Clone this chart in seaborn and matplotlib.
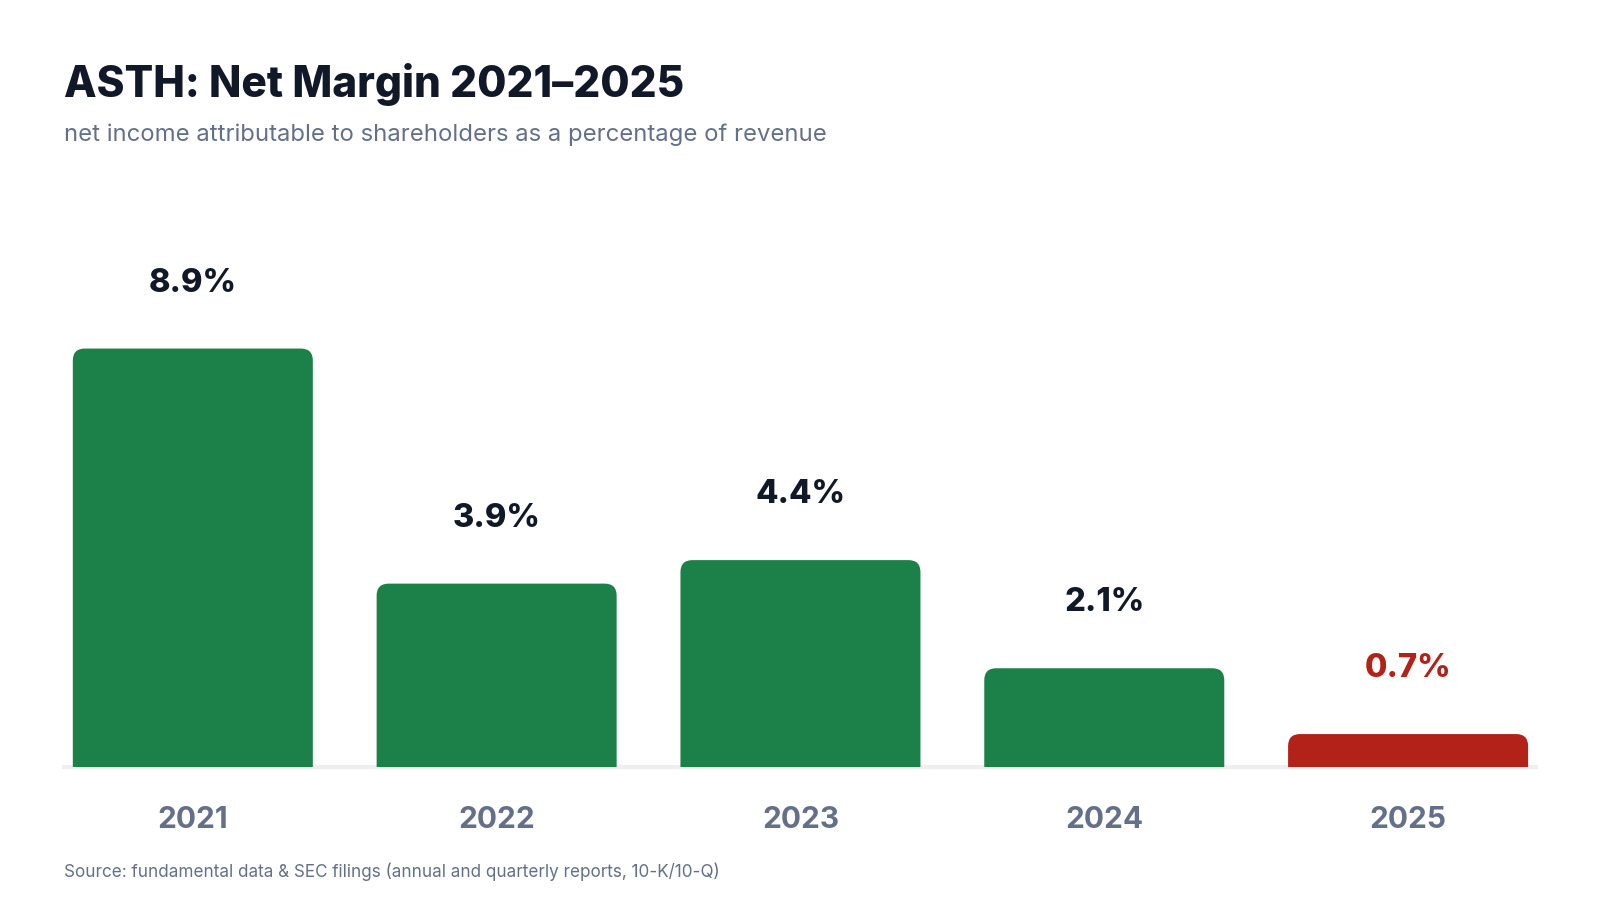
import matplotlib
matplotlib.use("Agg")
import matplotlib.pyplot as plt
import seaborn as sns
import pandas as pd
from matplotlib.patches import FancyBboxPatch

years = ["2021", "2022", "2023", "2024", "2025"]
net_margin = [8.9, 3.9, 4.4, 2.1, 0.7]
bar_colors = ["#1b8149", "#1b8149", "#1b8149", "#1b8149", "#b22219"]
label_colors = ["#111827", "#111827", "#111827", "#111827", "#b22219"]
value_labels = ["8.9%", "3.9%", "4.4%", "2.1%", "0.7%"]

title = "ASTH: Net Margin 2021\u20132025"
subtitle = "net income attributable to shareholders as a percentage of revenue"
source = "Source: fundamental data & SEC filings (annual and quarterly reports, 10-K/10-Q)"

sns.set_theme(style="white")
plt.rcParams["font.family"] = ["Inter", "DejaVu Sans"]

df = pd.DataFrame({"year": years, "margin": net_margin})

fig = plt.figure(figsize=(16, 9), dpi=100)
ax = fig.add_axes([0.04, 0.1478, 0.92, 0.63])

sns.barplot(data=df, x="year", y="margin", hue="year",
            palette=dict(zip(years, bar_colors)), legend=False,
            width=0.79, ax=ax, saturation=1)

ax.set_xlim(-0.424, 4.421)
ax.set_ylim(0, 12.06)

# replace bars with rounded-top versions
fig.canvas.draw()
bbox = ax.get_window_extent()
xpix = bbox.width / (ax.get_xlim()[1] - ax.get_xlim()[0])
ypix = bbox.height / (ax.get_ylim()[1] - ax.get_ylim()[0])
radius_px = 12
r = radius_px / xpix
aspect = xpix / ypix
for p in list(ax.patches):
    x0, w, h = p.get_x(), p.get_width(), p.get_height()
    fc = p.get_facecolor()
    p.set_visible(False)
    extra = radius_px / ypix
    rp = FancyBboxPatch((x0, -extra), w, h + extra,
                        boxstyle=f"round,pad=0,rounding_size={r}",
                        mutation_aspect=aspect, facecolor=fc,
                        edgecolor="none", zorder=3)
    ax.add_patch(rp)

for i, c in enumerate(ax.containers):
    ax.bar_label(c, labels=[value_labels[i]], padding=36,
                 fontsize=23.5, fontweight="heavy", color=label_colors[i])

sns.despine(ax=ax, left=True, top=True, right=True)
ax.spines["bottom"].set_color("#efefef")
ax.spines["bottom"].set_linewidth(3)
ax.spines["bottom"].set_zorder(1)
ax.set_yticks([])
ax.set_xlabel("")
ax.set_ylabel("")
ax.tick_params(axis="x", length=0, pad=28, labelsize=21.5, labelcolor="#64708a")
for t in ax.get_xticklabels():
    t.set_fontweight("bold")
ax.grid(False)

fig.text(0.04, 0.8917, title, fontsize=30.5, fontweight="heavy", color="#111827",
         ha="left", va="baseline")
fig.text(0.04, 0.8428, subtitle, fontsize=17.2, color="#64708a",
         ha="left", va="baseline")
fig.text(0.04, 0.026, source, fontsize=12.3, color="#64708a",
         ha="left", va="baseline")

fig.savefig("out.png", dpi=100, facecolor="white")
